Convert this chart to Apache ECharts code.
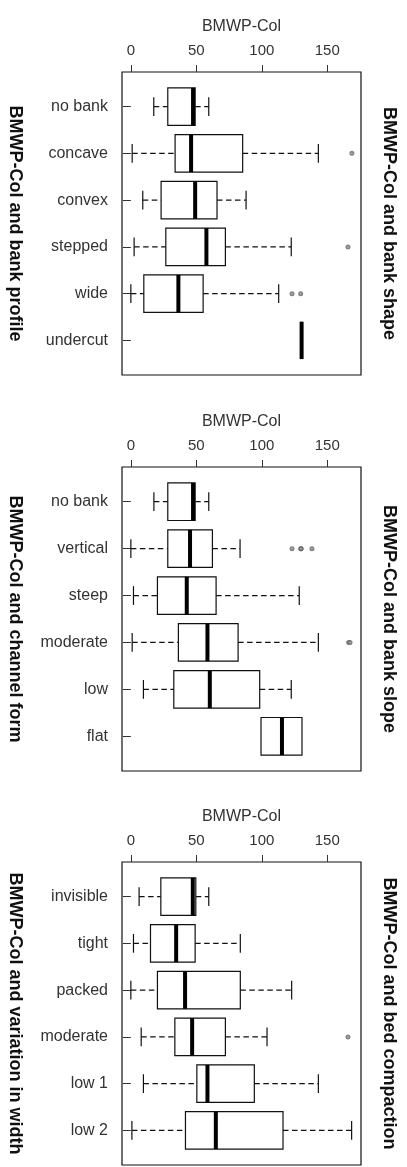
<!DOCTYPE html>
<html>
<head>
<meta charset="utf-8">
<title>BMWP-Col boxplots</title>
<script src="https://cdn.jsdelivr.net/npm/echarts@6/dist/echarts.min.js"></script>
<style>
  html, body { margin: 0; padding: 0; background: #ffffff; }
  #chart { width: 407px; height: 1167px; }
</style>
</head>
<body>
<div id="chart"></div>
<script>
// Category names per panel (top to bottom)
const catsProfile = ['no bank', 'concave', 'convex', 'stepped', 'wide', 'undercut'];
const catsForm = ['no bank', 'vertical', 'steep', 'moderate', 'low', 'flat'];
const catsWidth = ['invisible', 'tight', 'packed', 'moderate', 'low 1', 'low 2'];

// Box statistics: [lower whisker, Q1, median, Q3, upper whisker]
const statsProfile = [
  [17.5, 28.2, 47.5, 49.1, 59.5],
  [1.0, 33.8, 46.0, 85.4, 143.2],
  [9.1, 23.1, 49.1, 65.8, 88.0],
  [2.5, 26.7, 57.7, 72.2, 122.5],
  [0.0, 9.9, 36.3, 55.2, 112.9],
  [130.4, 130.4, 130.4, 130.4, 130.4]
];
const statsForm = [
  [17.6, 28.2, 47.5, 49.1, 59.5],
  [0.0, 28.2, 45.2, 62.3, 83.4],
  [2.0, 20.3, 42.7, 65.1, 128.6],
  [1.0, 36.3, 58.5, 81.9, 143.2],
  [9.6, 32.8, 60.3, 98.4, 122.5],
  [99.4, 99.4, 115.4, 130.7, 130.7]
];
const statsWidth = [
  [6.3, 22.9, 47.3, 49.6, 59.5],
  [2.0, 15.0, 34.6, 49.1, 83.6],
  [0.0, 20.3, 41.4, 83.6, 122.8],
  [7.9, 33.6, 46.8, 72.2, 104.0],
  [9.6, 50.4, 58.5, 94.3, 143.2],
  [0.8, 41.7, 64.9, 116.2, 168.6]
];

// Outliers: [row number (1-based), value]
const outliersProfile = [[2, 168.8], [4, 165.8], [5, 123.1], [5, 129.7]];
const outliersForm = [[2, 123.1], [2, 129.9], [2, 129.9], [2, 129.9], [2, 138.3], [4, 166.3], [4, 167.4]];
const outliersWidth = [[4, 165.8]];

// Axis ticks for BMWP-Col
const xTicks = [0, 50, 100, 150];
const xName = 'BMWP-Col';

// Side titles
const leftTitles = ['BMWP-Col and bank profile', 'BMWP-Col and channel form', 'BMWP-Col and variation in width'];
const rightTitles = ['BMWP-Col and bank shape', 'BMWP-Col and bank slope', 'BMWP-Col and bed compaction'];

const FONT = '"Liberation Sans", Arial, sans-serif';
const panels = [
  { cats: catsProfile, stats: statsProfile, out: outliersProfile, top: 72, height: 303 },
  { cats: catsForm, stats: statsForm, out: outliersForm, top: 467, height: 304 },
  { cats: catsWidth, stats: statsWidth, out: outliersWidth, top: 862, height: 303 }
];
const GRID_LEFT = 122, GRID_WIDTH = 239;

function renderBox(params, api) {
  const row = api.value(0);
  const v = [1, 2, 3, 4, 5].map(i => api.value(i));
  const p = v.map(x => api.coord([x, row]));
  const cy = p[0][1];
  const h = api.size([0, 0.8])[1];
  const cap = api.size([0, 0.4])[1];
  const lineStyle = { stroke: '#111', lineWidth: 1.2, fill: null };
  const dashStyle = { stroke: '#111', lineWidth: 1.2, lineDash: [5.5, 3.5], fill: null };
  const kids = [];
  if (v[0] < v[1]) {
    kids.push({ type: 'line', shape: { x1: p[0][0], y1: cy, x2: p[1][0], y2: cy }, style: dashStyle });
    kids.push({ type: 'line', shape: { x1: p[0][0], y1: cy - cap / 2, x2: p[0][0], y2: cy + cap / 2 }, style: lineStyle });
  }
  if (v[4] > v[3]) {
    kids.push({ type: 'line', shape: { x1: p[3][0], y1: cy, x2: p[4][0], y2: cy }, style: dashStyle });
    kids.push({ type: 'line', shape: { x1: p[4][0], y1: cy - cap / 2, x2: p[4][0], y2: cy + cap / 2 }, style: lineStyle });
  }
  kids.push({
    type: 'rect',
    shape: { x: p[1][0], y: cy - h / 2, width: p[3][0] - p[1][0], height: h },
    style: { fill: '#ffffff', stroke: '#111', lineWidth: 1.2 }
  });
  kids.push({
    type: 'line',
    shape: { x1: p[2][0], y1: cy - h / 2, x2: p[2][0], y2: cy + h / 2 },
    style: { stroke: '#000', lineWidth: 4 }
  });
  return { type: 'group', children: kids };
}

const grid = [], xAxis = [], yAxis = [], series = [], graphic = [];
panels.forEach((pn, i) => {
  grid.push({
    left: GRID_LEFT, width: GRID_WIDTH, top: pn.top, height: pn.height,
    show: true, borderColor: '#111', borderWidth: 1.2, backgroundColor: 'transparent'
  });
  xAxis.push({
    gridIndex: i, type: 'value', position: 'top', min: -6.76, max: 175.76,
    name: xName, nameLocation: 'middle', nameGap: 37,
    nameTextStyle: { fontFamily: FONT, fontSize: 16, color: '#333' },
    axisLine: { show: false },
    axisTick: { show: true, customValues: xTicks, length: 7, lineStyle: { color: '#333' } },
    axisLabel: { show: true, customValues: xTicks, margin: 14, fontFamily: FONT, fontSize: 15, color: '#333' },
    splitLine: { show: false }
  });
  const rows = pn.cats.map((c, k) => k + 1);
  yAxis.push({
    gridIndex: i, type: 'value', inverse: true, min: 0.26, max: 6.74,
    axisLine: { show: false },
    axisTick: { show: true, customValues: rows, length: 8, lineStyle: { color: '#333' } },
    axisLabel: {
      show: true, customValues: rows, margin: 14, fontFamily: FONT, fontSize: 16, color: '#333',
      formatter: val => pn.cats[Math.round(val) - 1]
    },
    splitLine: { show: false }
  });
  series.push({
    type: 'custom', xAxisIndex: i, yAxisIndex: i,
    data: pn.stats.map((s, k) => [k + 1].concat(s)),
    encode: { x: [1, 2, 3, 4, 5], y: 0 },
    renderItem: renderBox, silent: true, clip: false
  });
  series.push({
    type: 'scatter', xAxisIndex: i, yAxisIndex: i,
    data: pn.out.map(o => [o[1], o[0]]),
    symbol: 'emptyCircle', symbolSize: 3,
    itemStyle: { color: '#666', borderColor: '#666', borderWidth: 0.8, opacity: 0.8 },
    silent: true
  });
  const cy = pn.top + pn.height / 2;
  graphic.push({
    type: 'text', x: 15, y: cy, rotation: -Math.PI / 2,
    style: { text: leftTitles[i], font: 'bold 18px ' + FONT, fill: '#111',
      textAlign: 'center', textVerticalAlign: 'middle', align: 'center', verticalAlign: 'middle' }
  });
  graphic.push({
    type: 'text', x: 389, y: cy, rotation: -Math.PI / 2,
    style: { text: rightTitles[i], font: 'bold 18px ' + FONT, fill: '#111',
      textAlign: 'center', textVerticalAlign: 'middle', align: 'center', verticalAlign: 'middle' }
  });
});

const chart = echarts.init(document.getElementById('chart'), null, { renderer: 'canvas' });
chart.setOption({
  animation: false,
  backgroundColor: '#ffffff',
  grid, xAxis, yAxis, series, graphic
});
</script>
</body>
</html>
